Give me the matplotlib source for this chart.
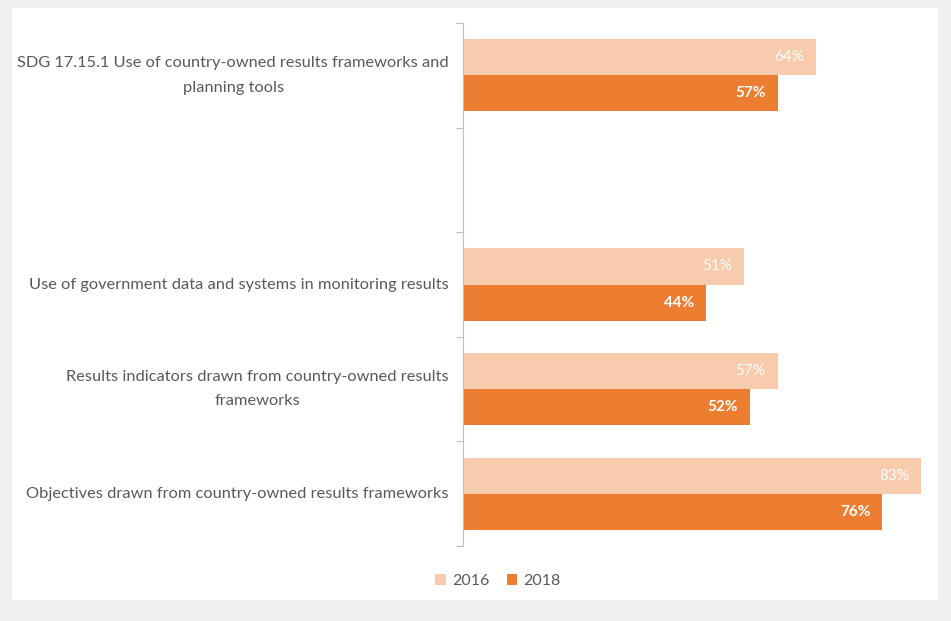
import numpy as np
import matplotlib.pyplot as plt
from matplotlib.patches import Rectangle

# categories top to bottom (second slot is left empty)
categories = ["SDG 17.15.1 Use of country-owned results frameworks and\nplanning tools",
              "",
              "Use of government data and systems in monitoring results",
              "Results indicators drawn from country-owned results\nframeworks",
              "Objectives drawn from country-owned results frameworks"]
vals_2016 = [64, np.nan, 51, 57, 83]
vals_2018 = [57, np.nan, 44, 52, 76]
series = ["2016", "2018"]

c16 = "#f8cbad"
c18 = "#ed7d31"
txt = "#595959"

plt.rcParams['font.family'] = ['Lato', 'DejaVu Sans']

W, H = 951, 621
fig = plt.figure(figsize=(W / 100, H / 100), dpi=100)
fig.patch.set_facecolor("#f0f0f0")
# white chart area
fig.patches.append(Rectangle((12 / W, 1 - 600 / H), (938 - 12) / W, (600 - 8) / H,
                             transform=fig.transFigure, facecolor="white",
                             edgecolor="none", zorder=-5))

x0, x1 = 463, 930
y_top, y_bot = 23, 546
ax = fig.add_axes([x0 / W, 1 - y_bot / H, (x1 - x0) / W, (y_bot - y_top) / H])
ax.set_facecolor("none")

px_per_pct = (921 - 463) / 83.0
ax.set_xlim(0, (x1 - x0) / px_per_pct)
n = len(categories)
ax.set_ylim(n - 0.5, -0.5)

y = np.arange(n)
h = 0.345
b16 = ax.barh(y - h / 2, vals_2016, height=h, color=c16, label=series[0])
b18 = ax.barh(y + h / 2, vals_2018, height=h, color=c18, label=series[1])

for i in range(n):
    if not np.isnan(vals_2016[i]):
        ax.text(vals_2016[i] - 2.2, y[i] - h / 2, f"{vals_2016[i]:.0f}%", ha="right",
                va="center", color="white", fontsize=11)
    if not np.isnan(vals_2018[i]):
        ax.text(vals_2018[i] - 2.2, y[i] + h / 2, f"{vals_2018[i]:.0f}%", ha="right",
                va="center", color="white", fontsize=11, fontweight="bold")

# category boundaries as tick marks, names written as text beside the axis
ax.set_yticks(np.arange(-0.5, n, 1.0))
ax.set_yticklabels([])
ax.tick_params(axis="y", length=5, color="#bfbfbf", width=0.8)
for i, name in enumerate(categories):
    ax.text(-14 / px_per_pct, y[i], name, ha="right", va="center",
            multialignment="center", linespacing=1.95, fontsize=11.8,
            color=txt, clip_on=False)

ax.set_xticks([])
for s in ["top", "right", "bottom"]:
    ax.spines[s].set_visible(False)
ax.spines["left"].set_color("#bfbfbf")
ax.spines["left"].set_linewidth(0.8)

leg = fig.legend(handles=[b16, b18], labels=series, loc="center",
                 bbox_to_anchor=(498 / W, 1 - 581 / H), ncol=2, frameon=False,
                 fontsize=11.5, handlelength=0.65, handleheight=0.65,
                 handletextpad=0.4, columnspacing=1.1)
for t in leg.get_texts():
    t.set_color(txt)

fig.savefig("out.png", dpi=100, facecolor=fig.get_facecolor())
